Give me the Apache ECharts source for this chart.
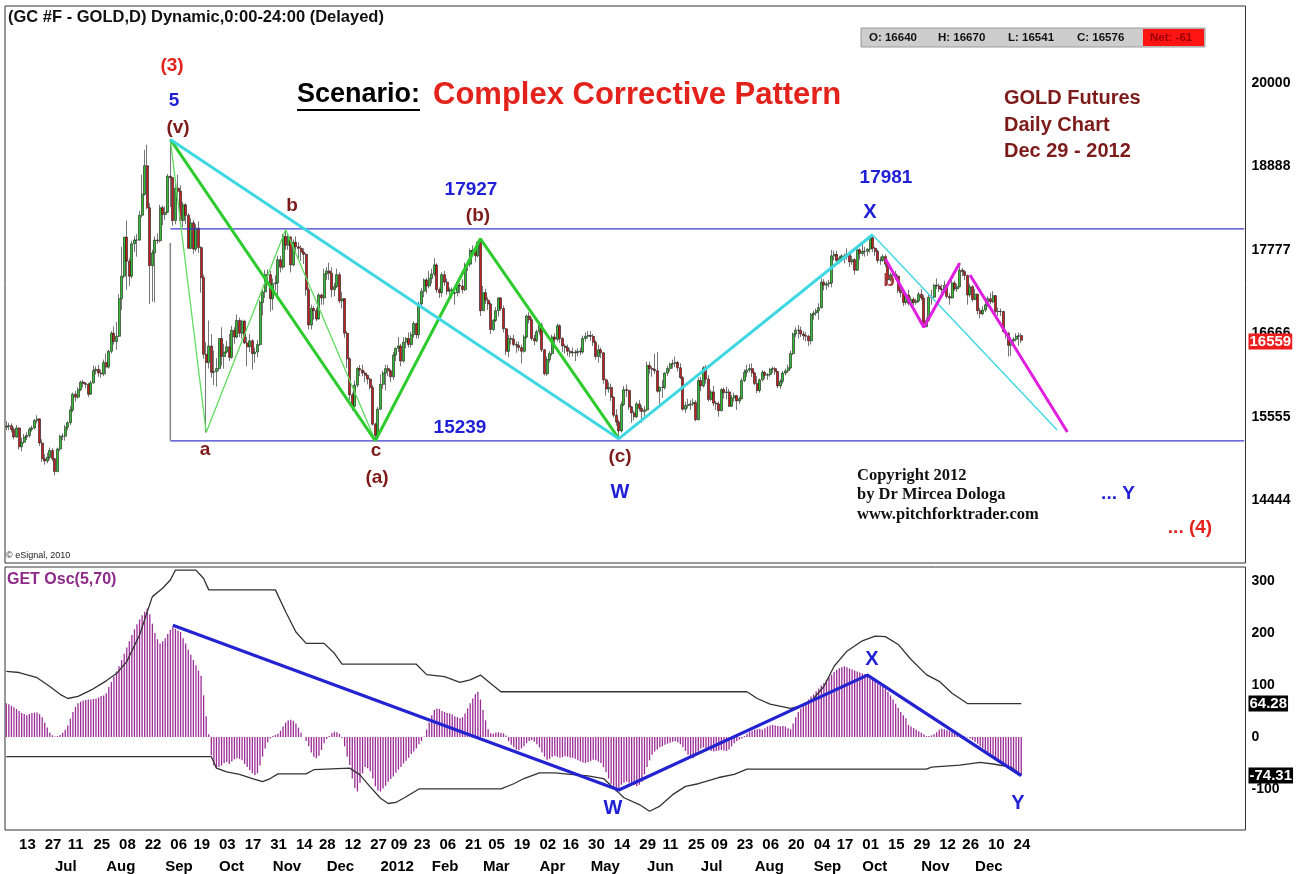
<!DOCTYPE html>
<html>
<head>
<meta charset="utf-8">
<title>GOLD Futures Daily - Complex Corrective Pattern</title>
<script src="https://cdn.jsdelivr.net/npm/echarts@6/dist/echarts.min.js"></script>
<style>
html, body { margin: 0; padding: 0; background: #fff; }
#container { width: 1307px; height: 874px; }
</style>
</head>
<body>
<div id="container"></div>
<script>
// daily bars, one array per month: [day, open, high, low, close] (chart units, price x10)
var jun2011 = [[6,15420,15500,15380,15430],[7,15430,15480,15380,15440],[8,15440,15470,15350,15390],[9,15390,15420,15260,15290],[10,15290,15450,15280,15410],[13,15410,15420,15120,15160],[14,15160,15280,15100,15220],[15,15220,15330,15200,15290],[16,15290,15350,15250,15310],[17,15310,15420,15280,15390],[20,15390,15440,15360,15410],[21,15410,15530,15390,15510],[22,15510,15580,15470,15530],[23,15530,15540,15170,15210],[24,15210,15260,14960,15000],[27,15000,15060,14920,14970],[28,14970,15080,14940,15020],[29,15020,15150,14990,15110],[30,15110,15140,14970,15000]];
var jul2011 = [[1,15000,15010,14780,14830],[5,14830,15150,14820,15130],[6,15130,15320,15100,15300],[7,15300,15340,15250,15300],[8,15300,15450,15240,15420],[11,15420,15500,15380,15480],[12,15480,15700,15450,15650],[13,15650,15880,15620,15860],[14,15860,15900,15760,15820],[15,15820,15950,15800,15920],[18,15920,16040,15900,16020],[19,16020,16050,15950,16000],[20,16000,16020,15940,15990],[21,15990,16010,15820,15860],[22,15860,16040,15850,16010],[25,16010,16240,16000,16170],[26,16170,16230,16120,16190],[27,16190,16250,16090,16140],[28,16140,16190,16080,16130],[29,16130,16320,16100,16280]];
var aug2011 = [[1,16280,16400,16120,16220],[2,16220,16450,16200,16430],[3,16430,16700,16400,16670],[4,16670,16760,16520,16560],[5,16560,16820,16450,16630],[8,16630,17190,16620,17130],[9,17130,17820,16980,17430],[10,17430,17950,17400,17950],[11,17950,18170,17250,17630],[12,17630,17670,17300,17430],[15,17430,17900,17400,17860],[16,17860,17960,17750,17910],[17,17910,17990,17690,17910],[18,17910,18300,17900,18240],[19,18240,18780,18210,18520],[22,18520,19110,18500,18900],[23,18900,19180,18320,18340],[24,18340,18400,17060,17570],[25,17570,17780,17090,17740],[26,17740,17960,17080,17910],[29,17910,18000,17860,17900],[30,17900,18380,17880,18340],[31,18340,18370,18110,18250]];
var sep2011 = [[1,18250,18360,18180,18280],[2,18280,18790,18270,18760],[6,18760,19250,18350,18740],[7,18740,18750,18100,18170],[8,18170,18700,18120,18600],[9,18600,18780,18430,18560],[12,18560,18640,18100,18170],[13,18170,18420,18080,18380],[14,18380,18400,18120,18240],[15,18240,18270,17800,17800],[16,17800,18200,17790,18140],[19,18140,18180,17730,17790],[20,17790,18120,17760,18070],[21,18070,18160,17740,17810],[22,17810,17830,17210,17410],[23,17410,17450,16330,16390],[26,16390,16550,15350,16280],[27,16280,16840,16200,16500],[28,16500,16660,16080,16150],[29,16150,16440,15980,16160],[30,16160,16340,15960,16200]];
var oct2011 = [[3,16200,16600,16170,16600],[4,16600,16750,16240,16360],[5,16360,16530,16200,16420],[6,16420,16570,16400,16490],[7,16490,16660,16300,16350],[10,16350,16770,16330,16710],[11,16710,16750,16530,16620],[12,16620,16920,16600,16840],[13,16840,16880,16620,16670],[14,16670,16850,16600,16830],[17,16830,16850,16530,16540],[18,16540,16620,16230,16490],[19,16490,16660,16420,16570],[20,16570,16590,16190,16400],[21,16400,16480,16280,16420],[24,16420,16580,16350,16520],[25,16520,17110,16500,17080],[26,17080,17270,16910,17220],[27,17220,17510,17140,17450],[28,17450,17520,17360,17450],[31,17450,17500,16960,17130]];
var nov2011 = [[1,17130,17400,16980,17330],[2,17330,17440,17240,17340],[3,17340,17700,17160,17650],[4,17650,17700,17480,17550],[7,17550,17990,17520,17960],[8,17960,18050,17780,17840],[9,17840,17990,17780,17950],[10,17950,17960,17480,17580],[11,17580,17920,17560,17880],[14,17880,17960,17750,17820],[15,17820,17880,17650,17800],[16,17800,17840,17630,17750],[17,17750,17800,17590,17720],[18,17720,17740,17170,17250],[21,17250,17280,16720,16780],[22,16780,17050,16720,17000],[23,17000,17030,16850,16970],[25,16970,17010,16830,16860],[28,16860,17200,16850,17180],[29,17180,17200,17050,17140],[30,17140,17530,17050,17460]];
var dec2011 = [[1,17460,17550,17380,17500],[2,17500,17610,17380,17470],[5,17470,17550,17150,17250],[6,17250,17340,17160,17290],[7,17290,17530,17270,17450],[8,17450,17480,17070,17100],[9,17100,17220,17000,17130],[12,17130,17140,16610,16670],[13,16670,16700,16210,16330],[14,16330,16350,15780,15850],[15,15850,15880,15640,15700],[16,15700,16040,15680,15980],[19,15980,16220,15950,16200],[20,16200,16250,16100,16180],[21,16180,16250,16100,16140],[22,16140,16170,16020,16110],[23,16110,16120,15990,16060],[27,16060,16080,15920,15950],[28,15950,15980,15440,15460],[29,15460,15480,15239,15310],[30,15310,15690,15300,15660]];
var jan2012 = [[3,15660,16120,15650,15990],[4,15990,16170,15930,16140],[5,16140,16250,15910,16200],[6,16200,16250,16100,16170],[9,16170,16190,16020,16090],[10,16090,16420,16050,16380],[11,16380,16480,16300,16470],[12,16470,16620,16420,16500],[13,16500,16530,16230,16300],[17,16300,16620,16280,16550],[18,16550,16620,16470,16600],[19,16600,16680,16480,16520],[20,16520,16690,16480,16650],[23,16650,16830,16610,16800],[24,16800,16810,16600,16650],[25,16650,17090,16600,17060],[26,17060,17270,17000,17230],[27,17230,17400,17150,17380],[30,17380,17410,17200,17300],[31,17300,17500,17270,17400]];
var feb2012 = [[1,17400,17530,17330,17460],[2,17460,17670,17430,17580],[3,17580,17600,17210,17250],[6,17250,17280,17140,17210],[7,17210,17480,17150,17450],[8,17450,17500,17300,17350],[9,17350,17400,17180,17230],[10,17230,17280,17100,17250],[13,17250,17280,17140,17200],[14,17200,17250,17050,17210],[15,17210,17360,17160,17310],[16,17310,17340,17200,17300],[17,17300,17390,17200,17250],[21,17250,17610,17230,17580],[22,17580,17620,17500,17590],[23,17590,17800,17550,17770],[24,17770,17840,17700,17750],[27,17750,17780,17620,17700],[28,17700,17900,17680,17880],[29,17880,17927,16900,16970]];
var mar2012 = [[1,16970,17300,16970,17210],[2,17210,17260,17060,17110],[5,17110,17150,16980,17060],[6,17060,17080,16660,16720],[7,16720,16860,16700,16840],[8,16840,17020,16820,16970],[9,16970,17150,16890,17140],[12,17140,17150,16970,17000],[13,17000,17040,16680,16730],[14,16730,16740,16380,16430],[15,16430,16650,16350,16600],[16,16600,16640,16520,16590],[19,16590,16650,16500,16520],[20,16520,16560,16410,16510],[21,16510,16560,16430,16480],[22,16480,16520,16270,16430],[23,16430,16650,16410,16620],[26,16620,16920,16600,16900],[27,16900,16950,16800,16850],[28,16850,16880,16570,16600],[29,16600,16650,16510,16570],[30,16570,16720,16550,16690]];
var apr2012 = [[2,16690,16800,16650,16780],[3,16780,16810,16420,16450],[4,16450,16460,16110,16130],[5,16130,16360,16100,16320],[9,16320,16430,16280,16400],[10,16400,16650,16370,16620],[11,16620,16670,16520,16590],[12,16590,16800,16560,16770],[13,16770,16790,16540,16600],[16,16600,16620,16420,16500],[17,16500,16530,16400,16480],[18,16480,16520,16370,16430],[19,16430,16470,16350,16410],[20,16410,16480,16360,16420],[23,16420,16450,16300,16410],[24,16410,16470,16360,16430],[25,16430,16480,16380,16420],[26,16420,16640,16400,16600],[27,16600,16680,16560,16630],[30,16630,16700,16600,16640]];
var may2012 = [[1,16640,16700,16570,16630],[2,16630,16660,16500,16550],[3,16550,16580,16320,16360],[4,16360,16520,16280,16450],[7,16450,16480,16340,16410],[8,16410,16420,16000,16050],[9,16050,16070,15840,15930],[10,15930,16020,15880,15950],[11,15950,16000,15770,15820],[14,15820,15830,15550,15580],[15,15580,15660,15440,15490],[16,15490,15520,15267,15370],[17,15370,15760,15350,15720],[18,15720,15970,15700,15920],[21,15920,15990,15820,15910],[22,15910,15920,15650,15690],[23,15690,15700,15480,15610],[24,15610,15640,15510,15560],[25,15560,15760,15540,15730],[29,15730,15780,15630,15670],[30,15670,15710,15480,15630],[31,15630,15700,15560,15650]];
var jun2012 = [[1,15650,16290,15630,16240],[4,16240,16290,16130,16200],[5,16200,16230,16090,16190],[6,16190,16400,16130,16170],[7,16170,16420,15880,15900],[8,15900,15960,15730,15950],[11,15950,16050,15810,15950],[12,15950,16150,15920,16140],[13,16140,16240,16100,16200],[14,16200,16280,16160,16260],[15,16260,16320,16200,16270],[18,16270,16360,16220,16280],[19,16280,16300,16160,16210],[20,16210,16270,16060,16080],[21,16080,16100,15640,15660],[22,15660,15760,15610,15710],[25,15710,15800,15670,15720],[26,15720,15780,15650,15730],[27,15730,15800,15700,15750],[28,15750,15780,15500,15520],[29,15520,16080,15510,16040]];
var jul2012 = [[2,16040,16090,15900,15970],[3,15970,16230,15950,16210],[5,16210,16250,16000,16060],[6,16060,16110,15760,15790],[9,15790,15920,15770,15890],[10,15890,15970,15700,15740],[11,15740,15770,15650,15730],[12,15730,15760,15560,15640],[13,15640,15940,15630,15920],[16,15920,15950,15800,15880],[17,15880,15960,15790,15890],[18,15890,15930,15690,15700],[19,15700,15850,15690,15810],[20,15810,15880,15760,15840],[23,15840,15850,15650,15770],[24,15770,15830,15730,15800],[25,15800,16070,15790,16040],[26,16040,16190,16020,16150],[27,16150,16250,16090,16180],[30,16180,16260,16150,16200],[31,16200,16270,16090,16140]];
var aug2012 = [[1,16140,16160,15980,16000],[2,16000,16100,15870,15910],[3,15910,16070,15880,16050],[6,16050,16180,16030,16150],[7,16150,16170,16060,16110],[8,16110,16140,16050,16120],[9,16120,16210,16090,16190],[10,16190,16230,16140,16200],[13,16200,16220,16120,16160],[14,16160,16170,15940,15970],[15,15970,16060,15930,16030],[16,16030,16170,16000,16140],[17,16140,16200,16110,16170],[20,16170,16250,16140,16210],[21,16210,16440,16190,16400],[22,16400,16680,16380,16660],[23,16660,16750,16620,16710],[24,16710,16780,16600,16710],[27,16710,16760,16620,16660],[28,16660,16700,16580,16640],[29,16640,16690,16560,16630],[30,16630,16650,16500,16570],[31,16570,16940,16520,16920]];
var sep2012 = [[4,16920,16970,16850,16940],[5,16940,17000,16900,16970],[6,16970,17070,16850,17010],[7,17010,17400,17000,17350],[10,17350,17390,17240,17310],[11,17310,17360,17250,17330],[12,17330,17380,17280,17340],[13,17340,17780,17280,17700],[14,17700,17770,17640,17720],[17,17720,17770,17620,17640],[18,17640,17700,17600,17670],[19,17670,17720,17620,17700],[20,17700,17730,17600,17690],[21,17690,17800,17650,17720],[24,17720,17740,17550,17620],[25,17620,17700,17580,17650],[26,17650,17670,17450,17510],[27,17510,17800,17500,17780],[28,17780,17800,17650,17730]];
var oct2012 = [[1,17730,17880,17700,17760],[2,17760,17820,17690,17760],[3,17760,17800,17700,17790],[4,17790,17960,17740,17940],[5,17940,17981,17750,17800],[8,17800,17820,17700,17760],[9,17760,17780,17600,17640],[10,17640,17690,17580,17640],[11,17640,17720,17620,17690],[12,17690,17720,17550,17590],[15,17590,17600,17330,17380],[16,17380,17480,17360,17450],[17,17450,17530,17420,17460],[18,17460,17500,17380,17430],[19,17430,17450,17200,17240],[22,17240,17280,17150,17210],[23,17210,17230,17030,17080],[24,17080,17220,17050,17180],[25,17180,17250,17040,17070],[26,17070,17160,17030,17120],[29,17120,17150,17040,17080],[30,17080,17130,17050,17100],[31,17100,17220,17080,17190]];
var nov2012 = [[1,17190,17260,17110,17140],[2,17140,17180,16750,16760],[5,16760,16880,16750,16840],[6,16840,17180,16830,17150],[7,17150,17250,17050,17150],[8,17150,17330,17140,17310],[9,17310,17400,17260,17300],[12,17300,17330,17220,17260],[13,17260,17320,17200,17250],[14,17250,17370,17230,17310],[15,17310,17320,17130,17160],[16,17160,17200,17050,17140],[19,17140,17380,17130,17340],[20,17340,17370,17230,17260],[21,17260,17330,17220,17290],[23,17290,17560,17280,17510],[26,17510,17540,17430,17490],[27,17490,17510,17380,17440],[28,17440,17450,17050,17180],[29,17180,17330,17150,17290],[30,17290,17310,17090,17120]];
var dec2012 = [[3,17120,17260,17110,17190],[4,17190,17200,16920,16970],[5,16970,17010,16870,16930],[6,16930,17030,16910,16980],[7,16980,17090,16950,17050],[10,17050,17160,17020,17130],[11,17130,17210,17060,17090],[12,17090,17230,17070,17170],[13,17170,17180,16940,16960],[14,16960,17010,16900,16960],[17,16960,17000,16900,16960],[18,16960,16970,16680,16690],[19,16690,16720,16600,16670],[20,16670,16690,16360,16510],[21,16510,16620,16370,16570],[24,16570,16620,16540,16590],[26,16590,16670,16560,16630],[27,16630,16680,16500,16637],[28,16640,16670,16541,16576]];

// GET Osc(5,70) histogram, one value per bar, same months as above
var oscJun11 = [65,63,60,57,54,50,46,44,42,44,46,47,47,44,38,28,18,8,3];
var oscJul11 = [1,2,4,8,14,22,35,48,58,65,68,70,71,72,72,73,74,76,79,80];
var oscAug11 = [84,96,106,116,126,136,148,160,172,184,196,207,217,226,234,241,247,236,218,200,188,180,184];
var oscSep11 = [190,198,206,212,208,205,202,190,180,168,158,148,138,128,118,80,40,5,-35,-55,-60];
var oscOct11 = [-58,-55,-50,-48,-52,-47,-43,-41,-42,-45,-52,-58,-64,-70,-73,-70,-55,-38,-22,-10,-3];
var oscNov11 = [2,4,6,12,20,28,32,33,31,26,18,8,0,-8,-18,-30,-38,-41,-36,-25,-12];
var oscDec11 = [-4,2,7,10,9,6,-2,-18,-38,-54,-80,-98,-105,-88,-70,-58,-60,-66,-80,-95,-103];
var oscJan12 = [-105,-99,-94,-86,-81,-76,-69,-63,-58,-51,-46,-40,-33,-28,-22,-14,-8,1,14,28];
var oscFeb12 = [42,52,55,54,50,48,46,45,43,40,38,36,38,45,55,65,74,82,87,72];
var oscMar12 = [52,32,15,7,6,8,9,8,7,3,-8,-15,-20,-24,-25,-22,-18,-12,-8,-6,-9,-14];
var oscApr12 = [-20,-30,-38,-44,-42,-38,-36,-38,-40,-39,-37,-38,-40,-40,-42,-45,-47,-49,-50,-48];
var oscMay12 = [-46,-44,-45,-47,-50,-58,-68,-80,-90,-98,-105,-100,-92,-88,-86,-88,-90,-92,-95,-92,-86,-72];
var oscJun12 = [-58,-45,-34,-28,-24,-20,-18,-15,-13,-11,-9,-8,-10,-14,-20,-27,-34,-39,-41,-36,-28];
var oscJul12 = [-22,-20,-22,-25,-27,-28,-27,-26,-25,-26,-27,-24,-18,-12,-8,-5,-3,2,6,10,12];
var oscAug12 = [14,15,16,14,17,20,22,23,22,21,20,21,20,17,15,26,38,48,55,60,66,72,78];
var oscSep12 = [82,88,93,99,104,110,115,120,125,129,132,134,136,134,132,130,128,126,124];
var oscOct12 = [122,121,120,116,112,108,103,99,96,93,87,80,72,64,56,48,42,36,23,20,17,14,11];
var oscNov12 = [8,5,2,2,3,5,9,14,16,15,13,11,9,7,5,3,2,1,-1,-3,-6];
var oscDec12 = [-9,-13,-18,-21,-26,-29,-33,-38,-40,-44,-48,-50,-54,-57,-59,-63,-66,-70,-74.31];

// oscillator envelope vertices: [bar number, value]
var upperBand = [[0,126],[5,124],[12,114],[17,97],[21,82],[24,74],[28,78],[33,90],[39,108],[43,122],[47,145],[52,196],[55,241],[57,270],[61,286],[64,302],[66,321],[74,321],[77,305],[79,283],[105,283],[109,241],[113,202],[117,180],[124,180],[128,161],[131,140],[160,140],[164,120],[171,116],[177,105],[181,110],[185,119],[189,103],[193,87],[289,87],[293,74],[298,63],[306,55],[311,61],[315,74],[319,97],[323,136],[328,165],[334,185],[339,194],[343,193],[348,178],[353,149],[359,120],[364,107],[369,84],[375,64.28],[396,64.28]];
var lowerBand = [[0,-38],[80,-38],[82,-60],[86,-67],[91,-72],[96,-80],[100,-86],[103,-80],[106,-71],[117,-71],[120,-63],[134,-60],[138,-73],[142,-96],[146,-118],[149,-128],[152,-126],[156,-115],[161,-100],[193,-100],[198,-90],[202,-80],[208,-69],[214,-69],[220,-72],[227,-75],[233,-80],[237,-98],[241,-117],[247,-130],[251,-143],[255,-133],[260,-111],[265,-95],[270,-90],[278,-78],[284,-72],[289,-62],[359,-62],[361,-58],[372,-54],[380,-49],[385,-52],[392,-58],[396,-73]];

// wave counts drawn on the price panel
var greenThickA = [['2011-09-06',19250],['2011-12-29',15239]];
var greenThickB = [['2011-12-29',15239],['2012-02-29',17927],['2012-05-16',15267]];
var greenThin = [['2011-09-06',19250],['2011-09-26',15350],['2011-11-08',18050],['2011-12-29',15239]];
var cyanThick = [['2011-09-06',19250],['2012-05-16',15267],['2012-10-05',17981]];
var cyanThin = [['2012-10-05',17981],[410,15382]];
var magentaA = [['2012-10-12',17660],['2012-11-02',16750],['2012-11-23',17605]];
var magentaB = [['2012-11-29',17445],[414,15356]];
var topLevel = 18060;
var bottomLevel = 15239;
var levelStart = '2011-09-06';
var oscWave = [['2011-09-07',215],['2012-05-16',-102],['2012-10-03',119],['2012-12-28',-74.31]];

var lastQuote = 16559;
var upperBandLast = 64.28;
var oscLast = -74.31;

var priceTicks = [14444, 15555, 16666, 17777, 18888, 20000];
var oscTicks = [-100, 0, 100, 200, 300];
var dayTicks = ['2011-06-13','2011-06-27','2011-07-11','2011-07-25','2011-08-08','2011-08-22','2011-09-06','2011-09-19','2011-10-03','2011-10-17','2011-10-31','2011-11-14','2011-11-28','2011-12-12','2011-12-27','2012-01-09','2012-01-23','2012-02-06','2012-02-21','2012-03-05','2012-03-19','2012-04-02','2012-04-16','2012-04-30','2012-05-14','2012-05-29','2012-06-11','2012-06-25','2012-07-09','2012-07-23','2012-08-06','2012-08-20','2012-09-04','2012-09-17','2012-10-01','2012-10-15','2012-10-29','2012-11-12','2012-11-26','2012-12-10','2012-12-24'];
var monthTicks = ['2011-07-01','2011-08-01','2011-09-01','2011-10-03','2011-11-01','2011-12-01','2012-01-03','2012-02-01','2012-03-01','2012-04-02','2012-05-01','2012-06-01','2012-07-02','2012-08-01','2012-09-04','2012-10-01','2012-11-01','2012-12-03'];
var monthNames = ['Jan','Feb','Mar','Apr','May','Jun','Jul','Aug','Sep','Oct','Nov','Dec'];

var months = [
    ['2011-06', jun2011, oscJun11], ['2011-07', jul2011, oscJul11], ['2011-08', aug2011, oscAug11],
    ['2011-09', sep2011, oscSep11], ['2011-10', oct2011, oscOct11], ['2011-11', nov2011, oscNov11],
    ['2011-12', dec2011, oscDec11], ['2012-01', jan2012, oscJan12], ['2012-02', feb2012, oscFeb12],
    ['2012-03', mar2012, oscMar12], ['2012-04', apr2012, oscApr12], ['2012-05', may2012, oscMay12],
    ['2012-06', jun2012, oscJun12], ['2012-07', jul2012, oscJul12], ['2012-08', aug2012, oscAug12],
    ['2012-09', sep2012, oscSep12], ['2012-10', oct2012, oscOct12], ['2012-11', nov2012, oscNov12],
    ['2012-12', dec2012, oscDec12]
];

var dates = [];
var candles = [];
var osc = [];
months.forEach(function (m) {
    m[1].forEach(function (b, i) {
        dates.push(m[0] + '-' + (b[0] < 10 ? '0' : '') + b[0]);
        candles.push([b[1], b[4], b[3], b[2]]);   // open, close, low, high
        osc.push(m[2][i]);
    });
});
// empty space on the right of the chart (projection area)
for (var k = 1; k <= 87; k++) {
    dates.push('f' + k);
}

var FONT = "'Liberation Sans', Arial, sans-serif";
var NARROW = "'Liberation Sans Narrow', 'Arial Narrow', 'Liberation Sans', sans-serif";

function line(data, xi, color, width) {
    return {
        type: 'line', xAxisIndex: xi, yAxisIndex: xi, data: data,
        symbol: 'none', silent: true, z: 4, animation: false,
        lineStyle: { color: color, width: width }
    };
}

function txt(x, y, s, font, color, align) {
    return {
        type: 'text', x: x, y: y, z: 100, silent: true,
        style: {
            text: s, font: font, fill: color,
            textAlign: align || 'center', textVerticalAlign: 'middle',
            align: align || 'center', verticalAlign: 'middle'
        }
    };
}

// last-value tag on the right axis, drawn as an invisible horizontal marker line
function tag(series, value, bg, fg) {
    series.markLine = {
        silent: true, symbol: 'none', animation: false,
        lineStyle: { color: 'rgba(0,0,0,0)', width: 0 },
        label: {
            show: true, position: 'end', distance: 3, opacity: 1,
            backgroundColor: bg, color: fg, fontFamily: FONT, fontWeight: 'bold',
            fontSize: 15, padding: [1, 1, 0, 1],
            formatter: function (p) { return String(p.value); }
        },
        data: [{ yAxis: value }]
    };
    return series;
}

var BLUE = '#1f1fd6';
var MAROON = '#7d1a1a';
var RED = '#e3221b';
var big = 'bold 19px ' + FONT;
var serif = "bold 16.5px 'Liberation Serif', 'Times New Roman', serif";

var option = {
    animation: false,
    backgroundColor: '#ffffff',
    grid: [
        { left: 5, top: 6, width: 1240.5, height: 557, show: true, borderColor: '#333', borderWidth: 1 },
        { left: 5, top: 567, width: 1240.5, height: 263, show: true, borderColor: '#333', borderWidth: 1 }
    ],
    xAxis: [
        {
            type: 'category', gridIndex: 0, data: dates,
            axisLine: { show: false }, axisTick: { show: false }, axisLabel: { show: false }, splitLine: { show: false }
        },
        {
            type: 'category', gridIndex: 1, data: dates,
            axisLine: { show: false }, axisTick: { show: false }, splitLine: { show: false },
            axisLabel: {
                interval: function (i, v) { return dayTicks.indexOf(v) >= 0; },
                formatter: function (v) { return v.slice(8); },
                align: 'left', margin: 7, color: '#000',
                fontFamily: NARROW, fontWeight: 'bold', fontSize: 15
            }
        },
        {
            type: 'category', gridIndex: 1, data: dates, position: 'bottom', offset: 22,
            axisLine: { show: false }, axisTick: { show: false }, splitLine: { show: false },
            axisLabel: {
                interval: function (i, v) { return monthTicks.indexOf(v) >= 0; },
                formatter: function (v) {
                    var mo = parseInt(v.slice(5, 7), 10);
                    return mo === 1 ? v.slice(0, 4) : monthNames[mo - 1];
                },
                align: 'left', margin: 7, color: '#000',
                fontFamily: NARROW, fontWeight: 'bold', fontSize: 15
            }
        }
    ],
    yAxis: [
        {
            type: 'value', gridIndex: 0, position: 'right', min: 13613, max: 21025,
            axisLine: { show: false }, axisTick: { show: false }, splitLine: { show: false },
            axisLabel: {
                customValues: priceTicks, margin: 6, color: '#000',
                formatter: function (v) { return String(v); },
                fontFamily: FONT, fontWeight: 'bold', fontSize: 14
            }
        },
        {
            type: 'value', gridIndex: 1, position: 'right', min: -179, max: 327,
            axisLine: { show: false }, axisTick: { show: false }, splitLine: { show: false },
            axisLabel: {
                customValues: oscTicks, margin: 6, color: '#000',
                formatter: function (v) { return String(v); },
                fontFamily: FONT, fontWeight: 'bold', fontSize: 14
            }
        }
    ],
    series: [
        {
            type: 'candlestick', xAxisIndex: 0, yAxisIndex: 0, data: candles,
            barWidth: 2.5, z: 3,
            itemStyle: {
                color: '#2fbf2f', color0: '#c81e1e',
                borderColor: '#1a1a1a', borderColor0: '#1a1a1a', borderWidth: 0.6
            }
        },
        tag(line([[dates.length - 2, lastQuote], [dates.length - 1, lastQuote]], 0, 'rgba(0,0,0,0)', 0), lastQuote, '#ee1c1c', '#fff'),
        line([[levelStart, topLevel], [dates.length - 1, topLevel]], 0, '#3b3bd0', 1.3),
        line([[levelStart, bottomLevel], [dates.length - 1, bottomLevel]], 0, '#3b3bd0', 1.3),
        line([[levelStart, 17870], [levelStart, bottomLevel]], 0, '#8a8a8a', 1.6),
        line(greenThin, 0, '#5fdc5f', 1.3),
        line(greenThickA, 0, '#2ecb2e', 3),
        line(greenThickB, 0, '#2ecb2e', 3),
        line(cyanThick, 0, '#3fd8e2', 3),
        line(cyanThin, 0, '#3fd8e2', 1.4),
        line(magentaA, 0, '#e01ee0', 3),
        line(magentaB, 0, '#e01ee0', 3),
        {
            type: 'bar', xAxisIndex: 1, yAxisIndex: 1, data: osc,
            barWidth: 1.3, silent: true, z: 2,
            itemStyle: { color: '#9b2c97' }
        },
        tag(line(upperBand, 1, '#333333', 1.3), upperBandLast, '#000', '#fff'),
        tag(line(lowerBand, 1, '#333333', 1.3), oscLast, '#000', '#fff'),
        line(oscWave, 1, '#2323d2', 3.2)
    ],
    graphic: [
        txt(8, 17, '(GC #F - GOLD,D) Dynamic,0:00-24:00 (Delayed)', 'bold 16.5px ' + FONT, '#111', 'left'),
        { type: 'rect', z: 99, silent: true, shape: { x: 861, y: 28, width: 344, height: 19 }, style: { fill: '#cdcdcd', stroke: '#9a9a9a', lineWidth: 1 } },
        { type: 'rect', z: 99, silent: true, shape: { x: 1143, y: 29, width: 61, height: 17 }, style: { fill: '#ff1414' } },
        txt(869, 38, 'O: 16640', 'bold 11.5px ' + FONT, '#111', 'left'),
        txt(938, 38, 'H: 16670', 'bold 11.5px ' + FONT, '#111', 'left'),
        txt(1008, 38, 'L: 16541', 'bold 11.5px ' + FONT, '#111', 'left'),
        txt(1077, 38, 'C: 16576', 'bold 11.5px ' + FONT, '#111', 'left'),
        txt(1150, 38, 'Net: -61', 'bold 11.5px ' + FONT, '#9a0000', 'left'),

        txt(172, 66, '(3)', big, RED),
        txt(174, 101, '5', big, BLUE),
        txt(178, 128, '(v)', big, MAROON),
        txt(297, 95, 'Scenario:', 'bold 27px ' + FONT, '#000', 'left'),
        { type: 'line', z: 100, silent: true, shape: { x1: 297, y1: 110, x2: 420, y2: 110 }, style: { stroke: '#000', lineWidth: 2 } },
        txt(433, 95, 'Complex Corrective Pattern', 'bold 31px ' + FONT, RED, 'left'),
        txt(1004, 98, 'GOLD Futures', 'bold 20px ' + FONT, MAROON, 'left'),
        txt(1004, 125, 'Daily Chart', 'bold 20px ' + FONT, MAROON, 'left'),
        txt(1004, 151, 'Dec 29 - 2012', 'bold 20px ' + FONT, MAROON, 'left'),

        txt(292, 206, 'b', big, MAROON),
        txt(471, 190, '17927', big, BLUE),
        txt(478, 216, '(b)', big, MAROON),
        txt(886, 178, '17981', big, BLUE),
        txt(870, 212, 'X', 'bold 20px ' + FONT, BLUE),
        txt(889, 281, 'b', big, '#a33a3a'),
        txt(205, 450, 'a', big, MAROON),
        txt(376, 451, 'c', big, MAROON),
        txt(377, 478, '(a)', big, MAROON),
        txt(460, 428, '15239', big, BLUE),
        txt(620, 457, '(c)', big, MAROON),
        txt(620, 492, 'W', 'bold 20px ' + FONT, BLUE),
        txt(1118, 494, '... Y', big, BLUE),
        txt(1190, 528, '... (4)', big, RED),
        txt(857, 476, 'Copyright 2012', serif, '#111', 'left'),
        txt(857, 495, 'by Dr Mircea Dologa', serif, '#111', 'left'),
        txt(857, 515, 'www.pitchforktrader.com', serif, '#111', 'left'),
        txt(6, 556, '\u00a9 eSignal, 2010', '9px ' + FONT, '#222', 'left'),

        txt(7, 580, 'GET Osc(5,70)', 'bold 16px ' + FONT, '#8e2a8a', 'left'),
        txt(872, 659, 'X', 'bold 20px ' + FONT, BLUE),
        txt(613, 808, 'W', 'bold 20px ' + FONT, BLUE),
        txt(1018, 803, 'Y', 'bold 20px ' + FONT, BLUE)
    ]
};

var myChart = echarts.init(document.getElementById('container'));
myChart.setOption(option);
</script>
</body>
</html>
